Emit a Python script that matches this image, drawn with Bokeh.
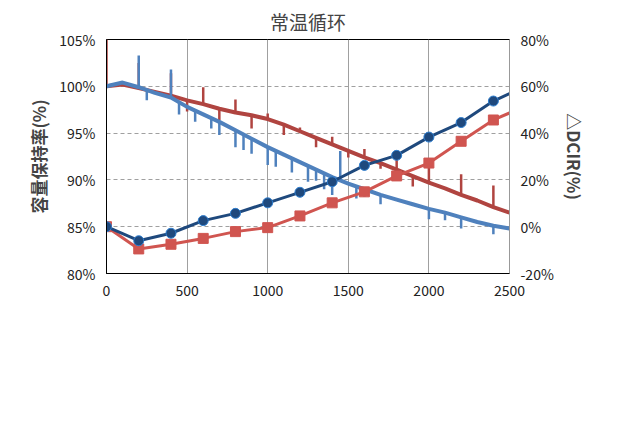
import numpy as np
from bokeh.plotting import figure
from bokeh.models import Range1d, LinearAxis, PrintfTickFormatter, Legend, LegendItem, Div, FixedTicker
from bokeh.layouts import column
from bokeh.embed import file_html
from bokeh.resources import INLINE

FONT = "Noto Sans CJK SC"
cyc = list(range(0, 2501, 100))
cap_blue = [100.0,100.4,99.9,99.3,98.8,97.8,97.0,96.2,95.3,94.4,93.5,92.7,91.9,91.1,90.3,89.6,89.0,88.4,87.9,87.4,86.9,86.5,86.0,85.5,85.1,84.8]
cap_red = [100.0,100.2,99.8,99.4,99.0,98.5,98.1,97.6,97.2,96.9,96.5,95.9,95.2,94.5,93.8,93.1,92.4,91.8,91.1,90.4,89.7,89.1,88.4,87.8,87.1,86.5]
spk_blue_x = [200,400,1450,250,450,550,650,700,800,850,900,1000,1050,1150,1250,1300,1350,1400,1550,1600,1700,2000,2100,2200,2400]
spk_blue_y = [103.3,101.8,93.1,98.5,97.0,96.2,95.5,94.8,93.5,93.2,92.8,91.6,91.4,90.8,89.8,89.9,89.0,88.4,88.0,88.2,87.4,85.8,85.7,84.8,84.2]
spk_red_x = [0,200,400,600,800,1000,1200,1400,1600,1800,2000,2200,2400,500,700,900,1100,1300,1500,1700,1900]
spk_red_y = [105,102.5,101.4,99.9,98.6,97.1,95.6,94.6,93.3,92.4,92.2,90.6,89.4,97.3,96.4,95.5,94.8,93.5,92.4,91.2,89.3]
dc_x = [0,200,400,600,800,1000,1200,1400,1600,1800,2000,2200,2400]
dc_blue = [0,-6,-2.8,2.6,5.7,10.2,14.7,19.2,26.2,30.5,38.3,44.5,53.7]
dc_red = [0,-9.5,-7.5,-5,-2.1,-0.4,4.6,10.2,14.9,21.7,27.2,36.5,45.6]
dc_end_x = 2500
dc_blue_end = 56.9
dc_red_end = 48.6

p = figure(frame_width=403, frame_height=234, output_backend="svg", toolbar_location=None,
           x_range=Range1d(0, 2500), y_range=Range1d(80, 105),
           min_border_left=106, min_border_right=104, min_border_top=20, min_border_bottom=10,
           title="常温循环")
p.title.align = "center"
p.title.text_font = FONT
p.title.text_font_size = "19px"
p.title.text_font_style = "normal"
p.extra_y_ranges = {"dc": Range1d(-20, 80)}

p.xaxis.ticker = FixedTicker(ticks=[0,500,1000,1500,2000,2500])
p.yaxis.ticker = FixedTicker(ticks=[80,85,90,95,100,105])
p.yaxis.formatter = PrintfTickFormatter(format="%d%%")
p.yaxis.axis_label = "容量保持率(%)"
r_ax = LinearAxis(y_range_name="dc", ticker=FixedTicker(ticks=[-20,0,20,40,60,80]),
                  formatter=PrintfTickFormatter(format="%d%%"), axis_label="△DCIR(%)")
p.add_layout(r_ax, "right")
for ax in [p.xaxis[0], p.yaxis[0], r_ax]:
    ax.major_label_text_font = FONT
    ax.major_label_text_font_size = "14px"
    ax.major_label_text_color = "#222"
    ax.axis_label_text_font = FONT
    ax.axis_label_text_font_size = "17px"
    ax.axis_label_text_font_style = "bold"
    ax.axis_line_color = "black"
    ax.major_tick_line_color = None
    ax.minor_tick_line_color = None
r_ax.axis_line_color = "#999"
p.xgrid.grid_line_color = "#a0a0a0"
p.ygrid.grid_line_color = "#a0a0a0"
p.ygrid.grid_line_dash = "4 3"
p.outline_line_color = "black"

BLUE = "#4f81bd"
bb = np.interp(spk_blue_x, cyc, cap_blue)
rb = np.interp(spk_red_x, cyc, cap_red)
p.segment(spk_red_x, rb, spk_red_x, spk_red_y, line_color="#b04440", line_width=2.5)
lr = p.line(cyc, cap_red, line_color="#b04440", line_width=4)
p.segment(spk_blue_x, bb, spk_blue_x, spk_blue_y, line_color=BLUE, line_width=2.5)
lb = p.line(cyc, cap_blue, line_color=BLUE, line_width=4)

p.line(dc_x + [dc_end_x], dc_red + [dc_red_end], y_range_name="dc", line_color="#d05550", line_width=3)
p.scatter(dc_x, dc_red, y_range_name="dc", marker="square", size=10, fill_color="#d05550", line_color="#d05550")
p.line(dc_x + [dc_end_x], dc_blue + [dc_blue_end], y_range_name="dc", line_color="#1f497d", line_width=3)
p.scatter(dc_x, dc_blue, y_range_name="dc", marker="circle", size=10, fill_color="#1f497d", line_color="#2f7fd0")

leg = Legend(items=[LegendItem(label="普通夹板", renderers=[lb]), LegendItem(label="弹簧夹板", renderers=[lr])],
             orientation="horizontal", border_line_color=None,
             label_text_font=FONT, label_text_font_size="16px", glyph_width=40, spacing=40,
             margin=6)
p.add_layout(leg, "below")

cap = Div(text="图 1　不同夹板电池常温循环", width=616, height=26,
          styles={"text-align": "center", "font-family": FONT, "font-size": "20px", "width": "616px"})
lay = column(p, cap, spacing=0)
open("out.html", "w").write(file_html(lay, INLINE))
